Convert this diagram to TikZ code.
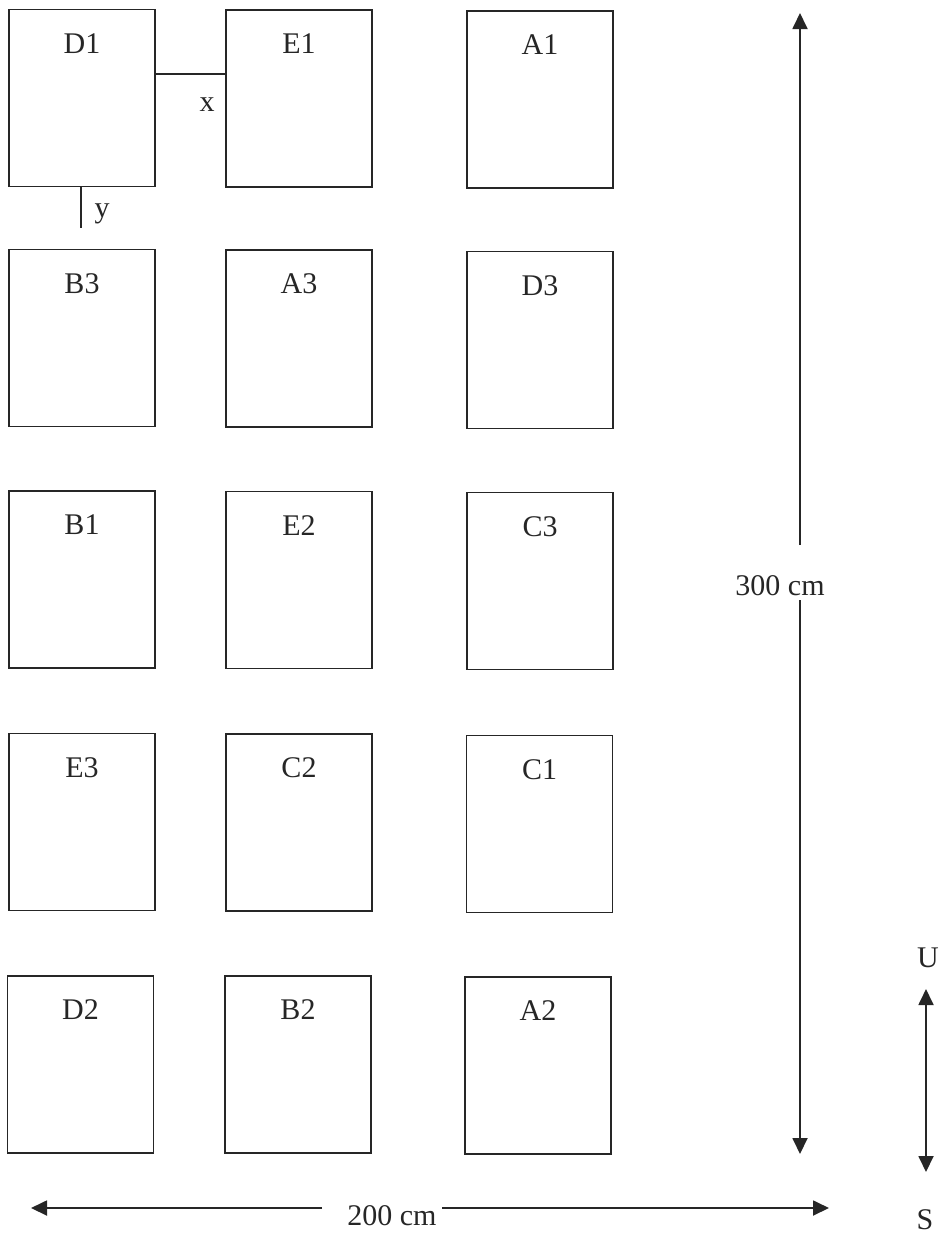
\documentclass[tikz,border=0pt]{standalone}
\usepackage{fontspec}
\setmainfont{Liberation Serif}
\usetikzlibrary{arrows.meta}
\begin{document}
\begin{tikzpicture}[x=1pt,y=-1pt,
  box/.style={draw=black!85, line width=1.8pt, minimum width=146pt, minimum height=177pt, inner sep=0pt, outer sep=0pt},
  lbl/.style={font=\fontsize{30}{34}\selectfont, text=black!85, inner sep=0pt},
  dim/.style={draw=black!85, line width=1.8pt},
  tip/.style={-{Triangle[length=16pt,width=15pt]}}]
\useasboundingbox (0,0) rectangle (941,1235);
% boxes
\foreach \n/\x/\y in {D1/82/98, E1/299/98.5, A1/540/99.5,
                      B3/82/338, A3/299/338.5, D3/540/340,
                      B1/82/579.5, E2/299/580, C3/540/581,
                      E3/82/822, C2/299/822.5, C1/539.5/824,
                      D2/80.5/1064.5, B2/298/1064.5, A2/538/1065.5}{
  \node[box] (\n) at (\x,\y) {};
  \node[lbl] (\n-t) at ([yshift=-34pt]\n.north) {\n};
}
% x and y spacing marks
\draw[dim] (D1.east |- 0,74) coordinate (xa) -- (E1.west |- 0,74) coordinate (xb);
\node[lbl] (xl) at (207,105) {x};
\coordinate (ya) at (81,187);
\coordinate (yb) at (81,228);
\draw[dim] (ya) -- (yb);
\node[lbl] (yl) at (102,214) {y};
% 300 cm
\coordinate (vt) at (800,13);
\coordinate (v1) at (800,545);
\coordinate (v2) at (800,600);
\coordinate (vb) at (800,1154);
\node[lbl] (l300) at (780,586) {300 cm};
\draw[dim,tip] (v1) -- (vt);
\draw[dim,tip] (v2) -- (vb);
% 200 cm
\coordinate (hl) at (31,1208);
\coordinate (h1) at (322,1208);
\coordinate (h2) at (442,1208);
\coordinate (hr) at (829,1208);
\node[lbl] (l200) at (392,1216) {200 cm};
\draw[dim,tip] (h1) -- (hl);
\draw[dim,tip] (h2) -- (hr);
% U / S
\node[lbl] (U) at (928,958) {U};
\node[lbl] (S) at (925,1220) {S};
\coordinate (ut) at (926,989);
\coordinate (ub) at (926,1172);
\draw[dim,{Triangle[length=16pt,width=15pt]}-{Triangle[length=16pt,width=15pt]}] (ut) -- (ub);
\end{tikzpicture}
\end{document}
